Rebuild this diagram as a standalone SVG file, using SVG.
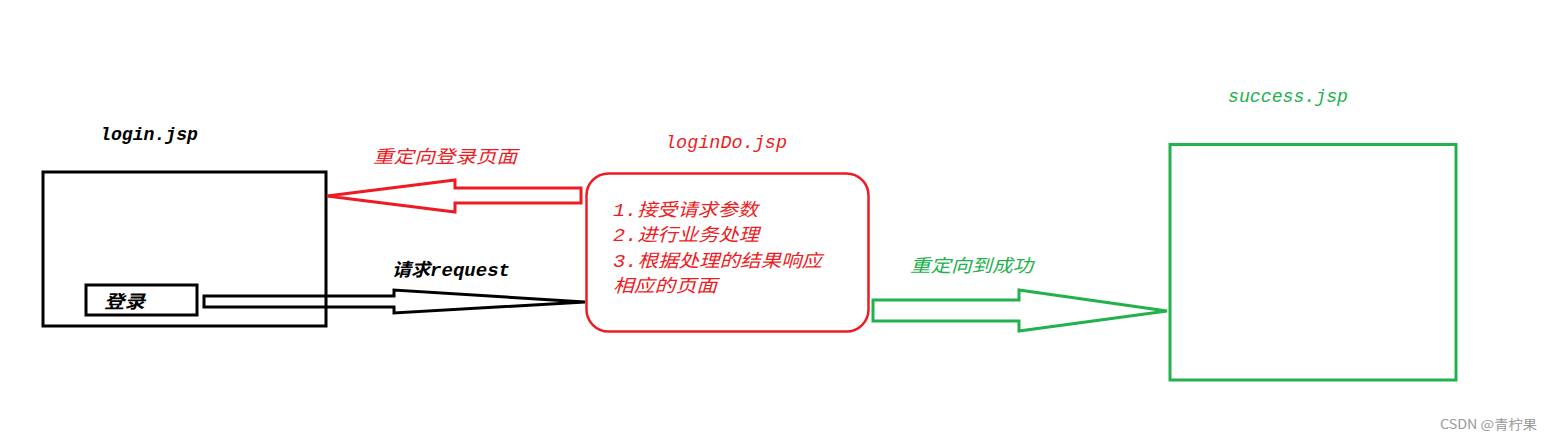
<svg xmlns="http://www.w3.org/2000/svg" width="1553" height="439" viewBox="0 0 1553 439">
<style>
.t{font-family:"Liberation Mono","Noto Sans CJK SC",monospace;font-style:italic;font-size:18px}
.b{font-weight:bold;fill:#000}
.r{fill:#ed1c24}
.g{fill:#22b14c}
.wm{font-family:"Noto Sans CJK SC","Liberation Sans",sans-serif;font-size:13px;fill:#999}
</style>
<rect width="1553" height="439" fill="#fff"/>
<g id="login">
<rect x="43" y="172" width="283" height="154" fill="none" stroke="#000" stroke-width="3"/>
<text class="t b" x="100" y="140" textLength="98" lengthAdjust="spacingAndGlyphs">login.jsp</text>
</g>
<g id="loginBtn">
<rect x="86" y="285" width="111" height="30" fill="none" stroke="#000" stroke-width="3"/>
<text class="t b" x="104" y="308" textLength="41" lengthAdjust="spacingAndGlyphs">登录</text>
</g>
<g id="loginDo">
<rect x="586.5" y="173.5" width="282" height="158" rx="22" fill="none" stroke="#ed1c24" stroke-width="2.5"/>
<text class="t r" x="665" y="148" textLength="122" lengthAdjust="spacingAndGlyphs">loginDo.jsp</text>
<text class="t r" x="613" y="216" textLength="145" lengthAdjust="spacingAndGlyphs">1.接受请求参数</text>
<text class="t r" x="613" y="241" textLength="146" lengthAdjust="spacingAndGlyphs">2.进行业务处理</text>
<text class="t r" x="613" y="267" textLength="209" lengthAdjust="spacingAndGlyphs">3.根据处理的结果响应</text>
<text class="t r" x="613" y="292" textLength="104" lengthAdjust="spacingAndGlyphs">相应的页面</text>
</g>
<g id="success">
<rect x="1170" y="144.5" width="286" height="235.5" fill="none" stroke="#22b14c" stroke-width="3"/>
<text class="t g" x="1228" y="102" textLength="120" lengthAdjust="spacingAndGlyphs">success.jsp</text>
</g>
<g id="connectors" stroke-width="3" stroke-linejoin="miter">
<polygon points="327,196 455,180 455,188 581,188 581,203 455,203 455,212" fill="none" stroke="#ed1c24"/>
<text class="t r" x="373" y="163" textLength="144" lengthAdjust="spacingAndGlyphs">重定向登录页面</text>
<polygon points="204,296 394,296 394,290 585,302 394,313 394,307 204,307" fill="none" stroke="#000"/>
<text class="t b" x="392" y="276" textLength="118" lengthAdjust="spacingAndGlyphs">请求request</text>
<polygon points="873,300 1019,300 1019,290 1167,311 1019,331 1019,321 873,321" fill="none" stroke="#22b14c"/>
<text class="t g" x="910" y="272" textLength="123" lengthAdjust="spacingAndGlyphs">重定向到成功</text>
</g>
<text class="wm" x="1440" y="429" textLength="97" lengthAdjust="spacingAndGlyphs">CSDN @青柠果</text>
</svg>
